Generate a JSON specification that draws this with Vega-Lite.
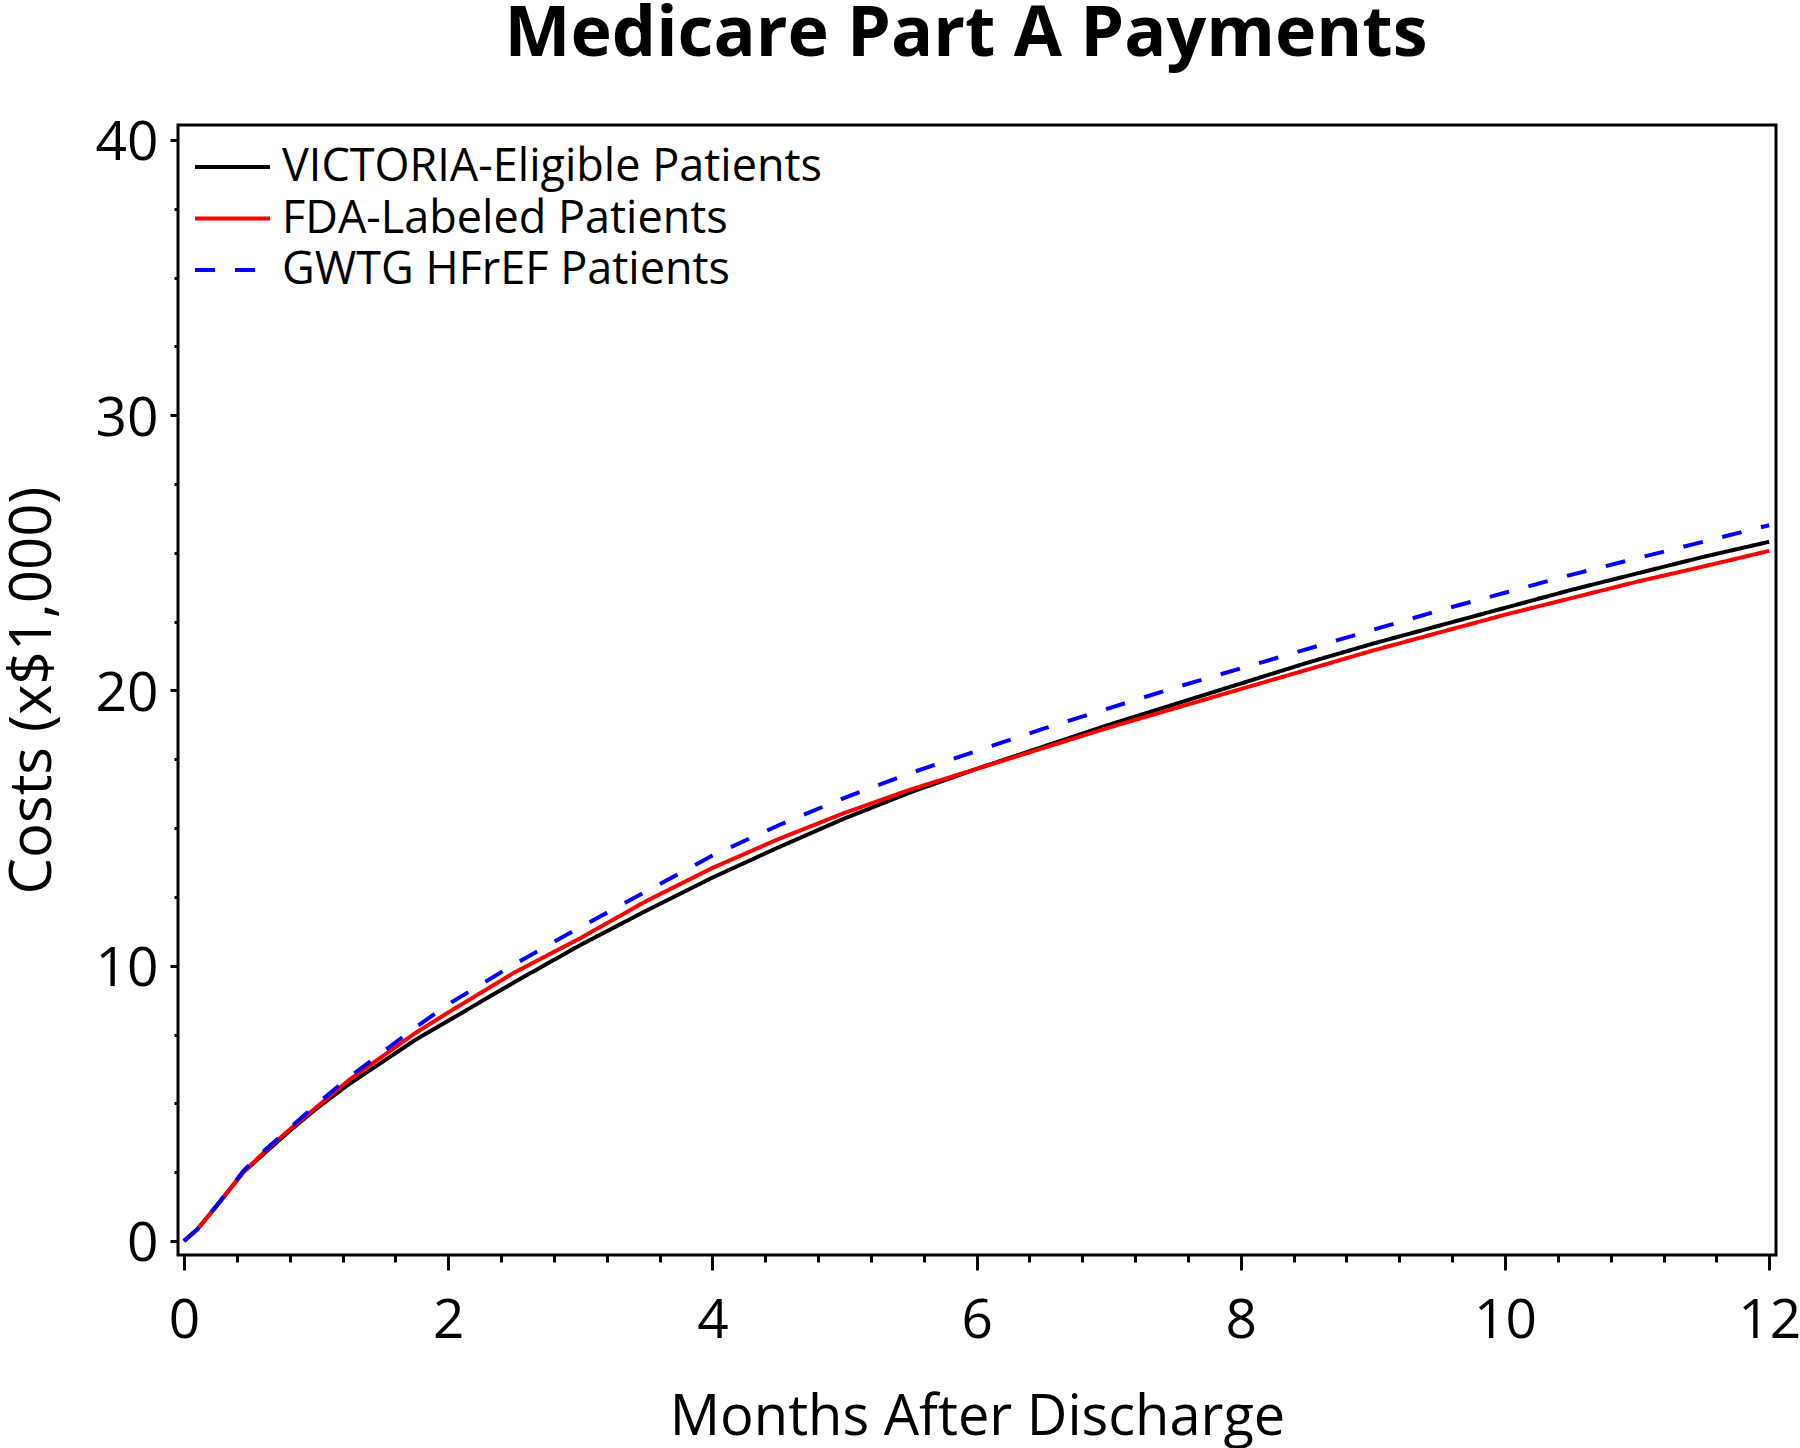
{
  "$schema": "https://vega.github.io/schema/vega-lite/v6.json",
  "width": 1598,
  "height": 1130,
  "autosize": {"type": "none"},
  "padding": {"left": 178, "top": 125, "right": 24, "bottom": 193},
  "background": "white",
  "title": {"text": "Medicare Part A Payments", "fontSize": 70, "font": "Open Sans", "fontWeight": "bold", "color": "black", "anchor": "middle", "baseline": "alphabetic", "offset": -10, "dx": -11},
  "datasets": {
    "curves": [
      {"group": "VICTORIA-Eligible Patients", "month": 0, "cost": 0},
      {"group": "VICTORIA-Eligible Patients", "month": 0.1, "cost": 0.42},
      {"group": "VICTORIA-Eligible Patients", "month": 0.2, "cost": 1.0},
      {"group": "VICTORIA-Eligible Patients", "month": 0.3, "cost": 1.6},
      {"group": "VICTORIA-Eligible Patients", "month": 0.45, "cost": 2.5},
      {"group": "VICTORIA-Eligible Patients", "month": 0.6, "cost": 3.15},
      {"group": "VICTORIA-Eligible Patients", "month": 0.8, "cost": 4.0},
      {"group": "VICTORIA-Eligible Patients", "month": 1.0, "cost": 4.8},
      {"group": "VICTORIA-Eligible Patients", "month": 1.25, "cost": 5.7},
      {"group": "VICTORIA-Eligible Patients", "month": 1.5, "cost": 6.5},
      {"group": "VICTORIA-Eligible Patients", "month": 1.75, "cost": 7.3},
      {"group": "VICTORIA-Eligible Patients", "month": 2.0, "cost": 8.0},
      {"group": "VICTORIA-Eligible Patients", "month": 2.5, "cost": 9.4},
      {"group": "VICTORIA-Eligible Patients", "month": 3.0, "cost": 10.75},
      {"group": "VICTORIA-Eligible Patients", "month": 3.5, "cost": 12.0},
      {"group": "VICTORIA-Eligible Patients", "month": 4.0, "cost": 13.2},
      {"group": "VICTORIA-Eligible Patients", "month": 4.5, "cost": 14.3},
      {"group": "VICTORIA-Eligible Patients", "month": 5.0, "cost": 15.35},
      {"group": "VICTORIA-Eligible Patients", "month": 5.5, "cost": 16.3},
      {"group": "VICTORIA-Eligible Patients", "month": 6.0, "cost": 17.15},
      {"group": "VICTORIA-Eligible Patients", "month": 6.5, "cost": 17.95},
      {"group": "VICTORIA-Eligible Patients", "month": 7.0, "cost": 18.75},
      {"group": "VICTORIA-Eligible Patients", "month": 7.5, "cost": 19.5},
      {"group": "VICTORIA-Eligible Patients", "month": 8.0, "cost": 20.25},
      {"group": "VICTORIA-Eligible Patients", "month": 8.5, "cost": 21.0},
      {"group": "VICTORIA-Eligible Patients", "month": 9.0, "cost": 21.7},
      {"group": "VICTORIA-Eligible Patients", "month": 9.5, "cost": 22.35},
      {"group": "VICTORIA-Eligible Patients", "month": 10.0, "cost": 23.0},
      {"group": "VICTORIA-Eligible Patients", "month": 10.5, "cost": 23.65},
      {"group": "VICTORIA-Eligible Patients", "month": 11.0, "cost": 24.25},
      {"group": "VICTORIA-Eligible Patients", "month": 11.5, "cost": 24.85},
      {"group": "VICTORIA-Eligible Patients", "month": 12.0, "cost": 25.4},

      {"group": "FDA-Labeled Patients", "month": 0, "cost": 0},
      {"group": "FDA-Labeled Patients", "month": 0.1, "cost": 0.42},
      {"group": "FDA-Labeled Patients", "month": 0.2, "cost": 1.0},
      {"group": "FDA-Labeled Patients", "month": 0.3, "cost": 1.6},
      {"group": "FDA-Labeled Patients", "month": 0.45, "cost": 2.5},
      {"group": "FDA-Labeled Patients", "month": 0.6, "cost": 3.2},
      {"group": "FDA-Labeled Patients", "month": 0.8, "cost": 4.05},
      {"group": "FDA-Labeled Patients", "month": 1.0, "cost": 4.85},
      {"group": "FDA-Labeled Patients", "month": 1.25, "cost": 5.85},
      {"group": "FDA-Labeled Patients", "month": 1.5, "cost": 6.7},
      {"group": "FDA-Labeled Patients", "month": 1.75, "cost": 7.55},
      {"group": "FDA-Labeled Patients", "month": 2.0, "cost": 8.3},
      {"group": "FDA-Labeled Patients", "month": 2.5, "cost": 9.75},
      {"group": "FDA-Labeled Patients", "month": 3.0, "cost": 11.0},
      {"group": "FDA-Labeled Patients", "month": 3.5, "cost": 12.35},
      {"group": "FDA-Labeled Patients", "month": 4.0, "cost": 13.55},
      {"group": "FDA-Labeled Patients", "month": 4.5, "cost": 14.6},
      {"group": "FDA-Labeled Patients", "month": 5.0, "cost": 15.55},
      {"group": "FDA-Labeled Patients", "month": 5.5, "cost": 16.4},
      {"group": "FDA-Labeled Patients", "month": 6.0, "cost": 17.15},
      {"group": "FDA-Labeled Patients", "month": 6.5, "cost": 17.9},
      {"group": "FDA-Labeled Patients", "month": 7.0, "cost": 18.65},
      {"group": "FDA-Labeled Patients", "month": 7.5, "cost": 19.35},
      {"group": "FDA-Labeled Patients", "month": 8.0, "cost": 20.05},
      {"group": "FDA-Labeled Patients", "month": 8.5, "cost": 20.75},
      {"group": "FDA-Labeled Patients", "month": 9.0, "cost": 21.45},
      {"group": "FDA-Labeled Patients", "month": 9.5, "cost": 22.1},
      {"group": "FDA-Labeled Patients", "month": 10.0, "cost": 22.75},
      {"group": "FDA-Labeled Patients", "month": 10.5, "cost": 23.35},
      {"group": "FDA-Labeled Patients", "month": 11.0, "cost": 23.95},
      {"group": "FDA-Labeled Patients", "month": 11.5, "cost": 24.5},
      {"group": "FDA-Labeled Patients", "month": 12.0, "cost": 25.07},

      {"group": "GWTG HFrEF Patients", "month": 0, "cost": 0},
      {"group": "GWTG HFrEF Patients", "month": 0.1, "cost": 0.42},
      {"group": "GWTG HFrEF Patients", "month": 0.2, "cost": 1.0},
      {"group": "GWTG HFrEF Patients", "month": 0.3, "cost": 1.6},
      {"group": "GWTG HFrEF Patients", "month": 0.45, "cost": 2.55},
      {"group": "GWTG HFrEF Patients", "month": 0.6, "cost": 3.25},
      {"group": "GWTG HFrEF Patients", "month": 0.8, "cost": 4.1},
      {"group": "GWTG HFrEF Patients", "month": 1.0, "cost": 4.95},
      {"group": "GWTG HFrEF Patients", "month": 1.25, "cost": 5.95},
      {"group": "GWTG HFrEF Patients", "month": 1.5, "cost": 6.85},
      {"group": "GWTG HFrEF Patients", "month": 1.75, "cost": 7.75},
      {"group": "GWTG HFrEF Patients", "month": 2.0, "cost": 8.6},
      {"group": "GWTG HFrEF Patients", "month": 2.5, "cost": 10.05},
      {"group": "GWTG HFrEF Patients", "month": 3.0, "cost": 11.4},
      {"group": "GWTG HFrEF Patients", "month": 3.5, "cost": 12.7},
      {"group": "GWTG HFrEF Patients", "month": 4.0, "cost": 14.0},
      {"group": "GWTG HFrEF Patients", "month": 4.5, "cost": 15.1},
      {"group": "GWTG HFrEF Patients", "month": 5.0, "cost": 16.1},
      {"group": "GWTG HFrEF Patients", "month": 5.5, "cost": 17.0},
      {"group": "GWTG HFrEF Patients", "month": 6.0, "cost": 17.8},
      {"group": "GWTG HFrEF Patients", "month": 6.5, "cost": 18.6},
      {"group": "GWTG HFrEF Patients", "month": 7.0, "cost": 19.35},
      {"group": "GWTG HFrEF Patients", "month": 7.5, "cost": 20.1},
      {"group": "GWTG HFrEF Patients", "month": 8.0, "cost": 20.8},
      {"group": "GWTG HFrEF Patients", "month": 8.5, "cost": 21.5},
      {"group": "GWTG HFrEF Patients", "month": 9.0, "cost": 22.2},
      {"group": "GWTG HFrEF Patients", "month": 9.5, "cost": 22.9},
      {"group": "GWTG HFrEF Patients", "month": 10.0, "cost": 23.55},
      {"group": "GWTG HFrEF Patients", "month": 10.5, "cost": 24.2},
      {"group": "GWTG HFrEF Patients", "month": 11.0, "cost": 24.8},
      {"group": "GWTG HFrEF Patients", "month": 11.5, "cost": 25.4},
      {"group": "GWTG HFrEF Patients", "month": 12.0, "cost": 26.0}
    ]
  },
  "data": {"name": "curves"},
  "mark": {"type": "line", "strokeWidth": 4, "strokeCap": "butt"},
  "encoding": {
    "x": {
      "field": "month",
      "type": "quantitative",
      "scale": {"domain": [-0.0454, 12.0515], "nice": false, "zero": false},
      "axis": {
        "title": "Months After Discharge",
        "values": [0, 0.4, 0.8, 1.2, 1.6, 2, 2.4, 2.8, 3.2, 3.6, 4, 4.4, 4.8, 5.2, 5.6, 6, 6.4, 6.8, 7.2, 7.6, 8, 8.4, 8.8, 9.2, 9.6, 10, 10.4, 10.8, 11.2, 11.6, 12],
        "labelExpr": "datum.value % 2 === 0 ? '' + datum.value : ''",
        "tickSize": {"condition": {"test": "datum.value % 2 === 0", "value": 15}, "value": 7},
        "labelPadding": 24,
        "titlePadding": 42,
        "titleFontSize": 56
      }
    },
    "y": {
      "field": "cost",
      "type": "quantitative",
      "scale": {"domain": [-0.509, 40.54], "nice": false, "zero": false},
      "axis": {
        "title": "Costs (x$1,000)",
        "values": [0, 2.5, 5, 7.5, 10, 12.5, 15, 17.5, 20, 22.5, 25, 27.5, 30, 32.5, 35, 37.5, 40],
        "labelExpr": "datum.value % 10 === 0 ? '' + datum.value : ''",
        "tickSize": {"condition": {"test": "datum.value % 10 === 0", "value": 8}, "value": 4},
        "labelPadding": 12,
        "labelOffset": 3,
        "titlePadding": 33,
        "titleFontSize": 58
      }
    },
    "stroke": {
      "field": "group",
      "type": "nominal",
      "scale": {"domain": ["VICTORIA-Eligible Patients", "FDA-Labeled Patients", "GWTG HFrEF Patients"], "range": ["#000000", "#ff0000", "#0000ff"]},
      "legend": {"title": null, "orient": "none", "legendX": 15, "legendY": 22}
    },
    "strokeDash": {
      "field": "group",
      "type": "nominal",
      "scale": {"domain": ["VICTORIA-Eligible Patients", "FDA-Labeled Patients", "GWTG HFrEF Patients"], "range": [[1, 0], [1, 0], [20, 20]]},
      "legend": {"title": null, "orient": "none", "legendX": 15, "legendY": 22}
    }
  },
  "config": {
    "view": {"stroke": "black", "strokeWidth": 3},
    "axis": {
      "domain": false,
      "grid": false,
      "tickColor": "black",
      "tickWidth": 3,
      "labelFont": "Open Sans",
      "labelFontSize": 55,
      "labelColor": "black",
      "labelFlush": false,
      "labelOverlap": false,
      "titleFont": "Open Sans",
      "titleFontSize": 55,
      "titleFontWeight": "normal",
      "titleColor": "black"
    },
    "legend": {
      "padding": 0,
      "symbolType": "stroke",
      "symbolSize": 5625,
      "symbolStrokeWidth": 4,
      "clipHeight": 40,
      "rowPadding": 6.5,
      "labelOffset": 10,
      "labelFont": "Open Sans",
      "labelFontSize": 45,
      "labelColor": "black",
      "labelLimit": 0
    }
  }
}
